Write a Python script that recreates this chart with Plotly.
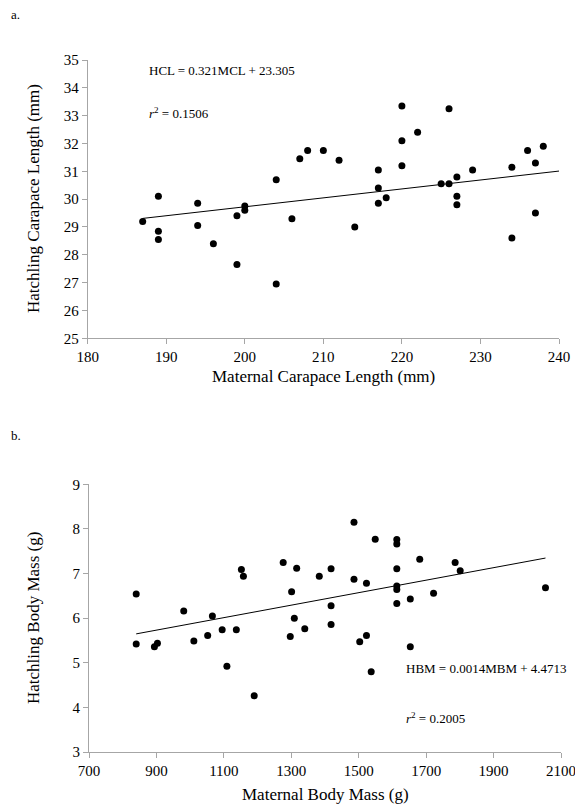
import plotly.graph_objects as go
import numpy as np

# ---- Data (panel a) ----
mcl = [187, 189, 189, 189, 194, 194, 196, 199, 199, 200, 200,
       204, 204, 206, 207, 208, 210, 212, 214,
       217, 217, 217, 218, 220, 220, 220, 222, 225, 226, 226,
       227, 227, 227, 229, 234, 234, 236, 237, 237, 238]
hcl = [29.2, 30.1, 28.85, 28.55, 29.85, 29.05, 28.4, 29.4, 27.65, 29.75, 29.6,
       30.7, 26.95, 29.3, 31.45, 31.75, 31.75, 31.4, 29.0,
       31.05, 30.4, 29.85, 30.05, 33.35, 32.1, 31.2, 32.4, 30.55, 33.25, 30.55,
       30.8, 30.1, 29.8, 31.05, 31.15, 28.6, 31.75, 31.3, 29.5, 31.9]
fit_a = [0.0321, 23.305]   # slope, intercept of plotted trendline
xr_a = [180, 240]
yr_a = [25, 35]

# ---- Data (panel b) ----
mbm = [840, 840, 894, 903, 981, 1011, 1052, 1066, 1095, 1109, 1137, 1152, 1158,
       1190, 1276, 1297, 1301, 1309, 1316, 1340, 1383, 1418, 1418, 1418,
       1486, 1486, 1503, 1523, 1523, 1537, 1549,
       1613, 1613, 1613, 1613, 1613, 1613,
       1653, 1653, 1681, 1722, 1786, 1801, 2054]
hbm = [6.54, 5.42, 5.36, 5.44, 6.16, 5.49, 5.61, 6.05, 5.74, 4.92, 5.74, 7.09, 6.94,
       4.26, 7.25, 5.59, 6.59, 6.0, 7.12, 5.76, 6.94, 7.11, 6.28, 5.86,
       8.15, 6.87, 5.47, 6.78, 5.61, 4.8, 7.77,
       7.76, 7.66, 7.11, 6.72, 6.64, 6.33,
       6.43, 5.36, 7.32, 6.56, 7.25, 7.06, 6.68]
fit_b = [0.0014, 4.4713]
xr_b = [700, 2100]
yr_b = [3, 9]

W, H = 575, 809
def px(x):
    return x / W
def py(y):
    return 1 - y / H

FONT = "Liberation Serif, Times New Roman, serif"
AXC = "#a6a6a6"

fig = go.Figure()

fig.add_trace(go.Scatter(x=mcl, y=hcl, mode="markers",
                         marker=dict(color="black", size=7),
                         xaxis="x", yaxis="y", showlegend=False))
xa = np.array([min(mcl), xr_a[1]], dtype=float)
fig.add_trace(go.Scatter(x=xa, y=fit_a[0] * xa + fit_a[1], mode="lines",
                         line=dict(color="black", width=1),
                         xaxis="x", yaxis="y", showlegend=False))

fig.add_trace(go.Scatter(x=mbm, y=hbm, mode="markers",
                         marker=dict(color="black", size=7),
                         xaxis="x2", yaxis="y2", showlegend=False))
xb = np.array([min(mbm), max(mbm)], dtype=float)
fig.add_trace(go.Scatter(x=xb, y=fit_b[0] * xb + fit_b[1], mode="lines",
                         line=dict(color="black", width=1),
                         xaxis="x2", yaxis="y2", showlegend=False))

axis_common = dict(showline=True, linecolor=AXC, linewidth=1, ticks="outside",
                   ticklen=5, tickcolor=AXC, showgrid=False, zeroline=False,
                   tickfont=dict(family=FONT, size=15, color="black"),
                   ticklabeloverflow="allow",
                   automargin=False, fixedrange=True)

fig.update_layout(
    width=W, height=H,
    margin=dict(l=0, r=0, t=0, b=0),
    paper_bgcolor="white", plot_bgcolor="white",
    font=dict(family=FONT, color="black"),
    xaxis=dict(domain=[px(87.7), px(559)], range=xr_a, tick0=180, dtick=10, anchor="y", **axis_common),
    yaxis=dict(domain=[py(338.3), py(60)], range=yr_a, tick0=25, dtick=1, anchor="x", **axis_common),
    xaxis2=dict(domain=[px(89), px(561)], range=xr_b, tick0=700, dtick=200, anchor="y2", **axis_common),
    yaxis2=dict(domain=[py(752), py(484.3)], range=yr_b, tick0=3, dtick=1, anchor="x2", **axis_common),
)

ann = []
def text(x, y, s, size, xanchor="left", angle=0):
    ann.append(dict(x=px(x), y=py(y), xref="paper", yref="paper", text=s,
                    showarrow=False, xanchor=xanchor, yanchor="middle",
                    textangle=angle, font=dict(family=FONT, size=size, color="black")))

text(9, 14, "a.", 13)
text(9, 436, "b.", 13)
text(323, 376, "Maternal Carapace Length (mm)", 17, xanchor="center")
text(33, 199, "Hatchling Carapace Length (mm)", 17, xanchor="center", angle=-90)
text(325, 794, "Maternal Body Mass (g)", 17, xanchor="center")
text(33, 618, "Hatchling Body Mass (g)", 17, xanchor="center", angle=-90)
text(146.7, 70, "HCL = 0.321MCL + 23.305", 13)
text(146.7, 113, "<i>r</i><sup>2</sup> = 0.1506", 13)
text(404, 668, "HBM = 0.0014MBM + 4.4713", 13)
text(404, 718, "<i>r</i><sup>2</sup> = 0.2005", 13)
fig.update_layout(annotations=ann)

fig.write_html("out.html")
